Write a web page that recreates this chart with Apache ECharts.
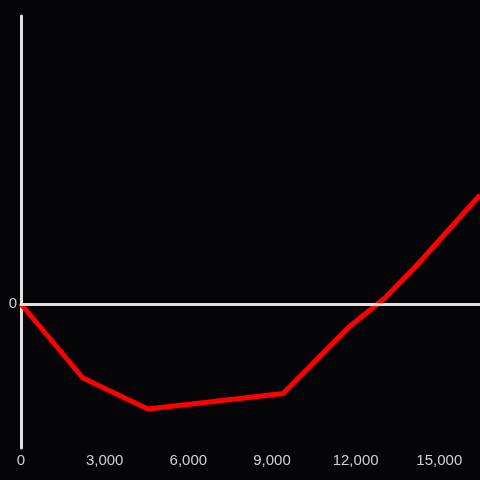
<!DOCTYPE html>
<html>
<head>
<meta charset="utf-8">
<script src="https://cdn.jsdelivr.net/npm/echarts@6/dist/echarts.min.js"></script>
<style>html,body{margin:0;padding:0;background:#050407;}#c{width:480px;height:480px;}</style>
</head>
<body>
<div id="c"></div>
<script>
var xValues = [0, 2220, 4550, 9400, 11760, 13050, 14200, 16460];
var yValues = [0, -740, -1050, -895, -230, 60, 390, 1090];
var xTicks = [0, 3000, 6000, 9000, 12000, 15000];

var chart = echarts.init(document.getElementById('c'), null, {renderer: 'canvas'});
var data = xValues.map(function (x, i) { return [x, yValues[i]]; });
chart.setOption({
  backgroundColor: '#050407',
  animation: false,
  grid: {left: 21, right: 0, top: 16, bottom: 32, containLabel: false},
  xAxis: [{
    type: 'value', min: 0, max: 16460, interval: 3000,
    axisLine: {show: false, onZero: false},
    axisTick: {show: false},
    splitLine: {show: false},
    axisLabel: {
      color: '#d0d0d0', fontSize: 15, fontFamily: 'Liberation Sans', margin: 5,
      showMaxLabel: false,
      formatter: function (v) { return xTicks.indexOf(v) >= 0 ? v.toLocaleString('en-US') : ''; }
    }
  }, {
    type: 'value', min: 0, max: 16460, position: 'bottom', z: 10,
    axisLine: {show: true, onZero: true, lineStyle: {color: '#e0e0e0', width: 3}},
    axisTick: {show: false}, axisLabel: {show: false}, splitLine: {show: false}
  }],
  yAxis: {
    type: 'value', min: -1440, max: 2880, interval: 1440,
    axisLine: {show: true, lineStyle: {color: '#e0e0e0', width: 3}},
    axisTick: {show: false},
    splitLine: {show: false},
    axisLabel: {
      color: '#d0d0d0', fontSize: 15, fontFamily: 'Liberation Sans', margin: 4,
      formatter: function (v) { return v === 0 ? '0' : ''; }
    }
  },
  series: [{
    type: 'line', data: data, symbol: 'none', xAxisIndex: 0,
    lineStyle: {color: '#ff0000', width: 5}
  }]
});
</script>
</body>
</html>
